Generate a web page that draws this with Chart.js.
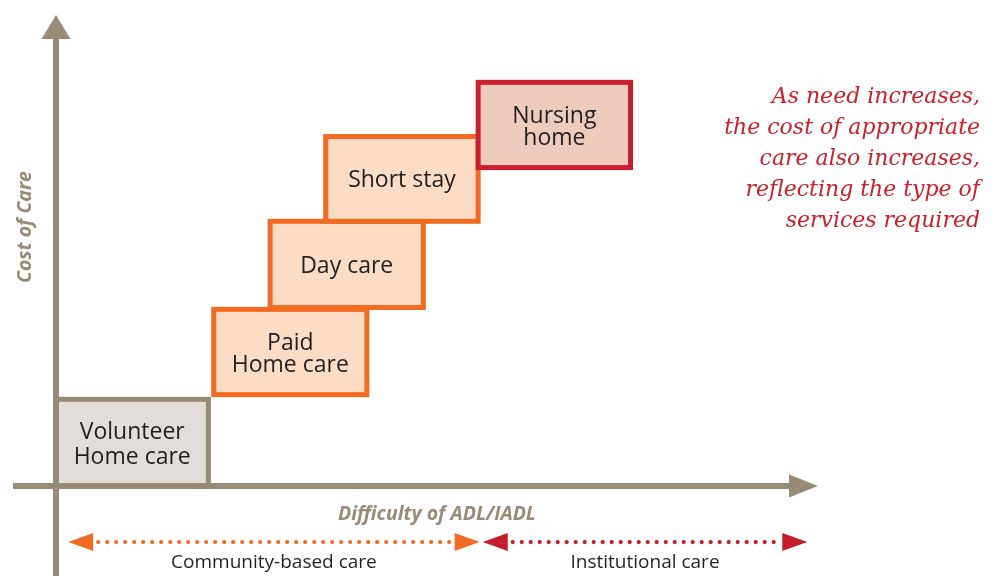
<!DOCTYPE html>
<html>
<head>
<meta charset="utf-8">
<script src="https://cdn.jsdelivr.net/npm/chart.js@4.4.1/dist/chart.umd.min.js"></script>
<style>
  body { margin: 0; background: #fff; }
  canvas { display: block; }
</style>
</head>
<body>
<canvas id="care" width="1002" height="576"></canvas>
<script>
// care types, bottom-left to top-right
const careTypes = [['Volunteer', 'Home care'], ['Paid', 'Home care'], ['Day care'], ['Short stay'], ['Nursing', 'home']];
// difficulty of ADL/IADL (x, 0-100)
const difficultyFrom = [0, 20.7, 28.1, 35.4, 55.4];
const difficultyTo = [20, 40.8, 48.2, 55.4, 75.4];
// cost of care (y, 0-100)
const costFrom = [0, 19.4, 37.9, 56.2, 67.6];
const costTo = [18.4, 37.5, 56.2, 74.2, 85.7];
// care groups under the x axis
const careGroups = ['Community-based care', 'Institutional care'];
const groupFrom = [1.6, 56.0];
const groupTo = [55.6, 98.6];
const groupLevel = -11.9;
const note = ['As need increases,', 'the cost of appropriate', 'care also increases,', 'reflecting the type of', 'services required'];

const boxFill = ['#e2ddd8', '#fcdcc4', '#fcdcc4', '#fcdcc4', '#efcbbe'];
const boxLine = ['#978b78', '#f26b23', '#f26b23', '#f26b23', '#c8202c'];
const groupColor = ['#f26b23', '#c41e2a'];
const axisColor = '#978b78';

function arrowHead(ctx, x, y, dir, len, half, color) {
    ctx.fillStyle = color;
    ctx.beginPath();
    ctx.moveTo(x, y);
    ctx.lineTo(x - dir * len, y - half);
    ctx.lineTo(x - dir * len, y + half);
    ctx.closePath();
    ctx.fill();
}

const staircase = {
    id: 'staircase',
    afterDatasetsDraw(chart) {
        const ctx = chart.ctx;
        const xs = chart.scales.x, ys = chart.scales.y;
        const area = chart.chartArea;
        ctx.save();

        // boxes
        careTypes.forEach((lines, i) => {
            const x0 = xs.getPixelForValue(difficultyFrom[i]);
            const x1 = xs.getPixelForValue(difficultyTo[i]);
            const y0 = ys.getPixelForValue(costFrom[i]);
            const y1 = ys.getPixelForValue(costTo[i]);
            ctx.fillStyle = boxFill[i];
            ctx.fillRect(x0, y1, x1 - x0, y0 - y1);
            ctx.strokeStyle = boxLine[i];
            ctx.lineWidth = 5;
            ctx.strokeRect(x0, y1, x1 - x0, y0 - y1);
            ctx.fillStyle = '#231f20';
            ctx.font = '23px "Open Sans"';
            ctx.textAlign = 'center';
            ctx.textBaseline = 'middle';
            const cx = (x0 + x1) / 2, cy = (y0 + y1) / 2 + 2;
            const gap = i === 0 ? 25 : 22;
            lines.forEach((t, k) => {
                ctx.fillText(t, cx, cy + (k - (lines.length - 1) / 2) * gap);
            });
        });

        // axes
        const ox = xs.getPixelForValue(0), oy = ys.getPixelForValue(0);
        ctx.strokeStyle = axisColor;
        ctx.lineWidth = 6;
        ctx.beginPath();
        ctx.moveTo(ox, chart.height);
        ctx.lineTo(ox, area.top + 24);
        ctx.moveTo(13, oy);
        ctx.lineTo(area.right - 29, oy);
        ctx.stroke();
        ctx.fillStyle = axisColor;
        ctx.beginPath();
        ctx.moveTo(ox, area.top);
        ctx.lineTo(ox - 14.5, area.top + 24);
        ctx.lineTo(ox + 14.5, area.top + 24);
        ctx.closePath();
        ctx.fill();
        arrowHead(ctx, area.right, oy, 1, 29, 11.5, axisColor);

        ctx.font = 'italic bold 19.5px "Open Sans"';
        ctx.fillStyle = axisColor;
        ctx.textAlign = 'center';
        ctx.textBaseline = 'middle';
        ctx.fillText('Difficulty of ADL/IADL', 437, oy + 28);
        ctx.save();
        ctx.translate(25, 227);
        ctx.rotate(-Math.PI / 2);
        ctx.fillText('Cost of Care', 0, 0);
        ctx.restore();

        // care groups
        const gy = ys.getPixelForValue(groupLevel);
        careGroups.forEach((name, i) => {
            const a = xs.getPixelForValue(groupFrom[i]);
            const b = xs.getPixelForValue(groupTo[i]);
            arrowHead(ctx, a, gy, -1, 25, 9, groupColor[i]);
            arrowHead(ctx, b, gy, 1, 25, 9, groupColor[i]);
            for (let x = a + 30; x <= b - 28; x += 9) {
                ctx.beginPath();
                ctx.arc(x, gy, 2.1, 0, Math.PI * 2);
                ctx.fill();
            }
            ctx.fillStyle = '#231f20';
            ctx.font = '19px "Open Sans"';
            ctx.fillText(name, (a + b) / 2, gy + 21);
        });

        // note
        ctx.fillStyle = '#c8202e';
        ctx.font = 'italic 22px "DejaVu Serif"';
        ctx.textAlign = 'right';
        note.forEach((t, k) => ctx.fillText(t, 980, 97 + k * 31));

        ctx.restore();
    }
};

new Chart(document.getElementById('care'), {
    type: 'scatter',
    data: {
        datasets: [{
            label: 'Care',
            data: careTypes.map((t, i) => ({
                x: (difficultyFrom[i] + difficultyTo[i]) / 2,
                y: (costFrom[i] + costTo[i]) / 2
            })),
            pointRadius: 0
        }]
    },
    options: {
        responsive: false,
        animation: false,
        layout: { padding: { left: 56, right: 184, top: 15, bottom: 90 } },
        plugins: { legend: { display: false }, tooltip: { enabled: false } },
        scales: {
            x: { type: 'linear', min: 0, max: 100, display: false },
            y: { type: 'linear', min: 0, max: 100, display: false }
        }
    },
    plugins: [staircase]
});
</script>
</body>
</html>
